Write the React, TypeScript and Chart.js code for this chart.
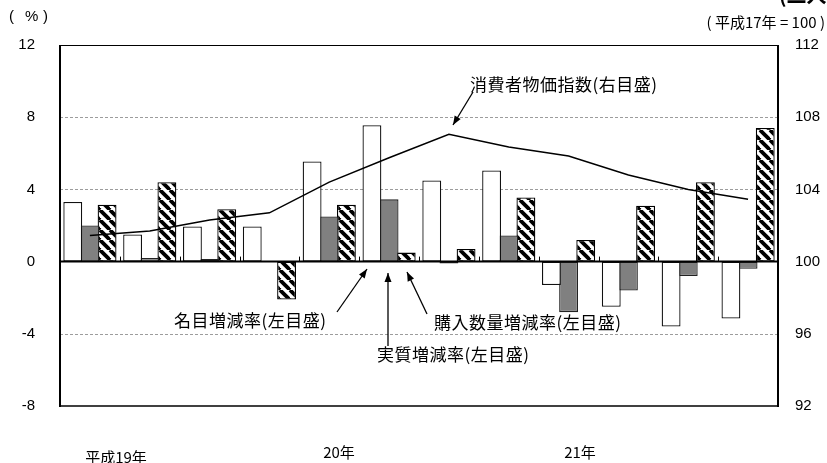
import React, { useEffect, useRef } from "react";
import { Chart, registerables } from "chart.js";

Chart.register(...registerables);

// 12 periods (quarters of 平成19年〜21年)
const categories = [
  "19年1-3月", "19年4-6月", "19年7-9月", "19年10-12月",
  "20年1-3月", "20年4-6月", "20年7-9月", "20年10-12月",
  "21年1-3月", "21年4-6月", "21年7-9月", "21年10-12月",
];
// 名目増減率 (%)
const nominalRate = [3.3, 1.5, 1.95, 1.95, 5.55, 7.55, 4.5, 5.05, -1.3, -2.5, -3.6, -3.15];
// 実質増減率 (%)
const realRate = [2.0, 0.2, 0.15, 0.0, 2.5, 3.45, -0.1, 1.45, -2.8, -1.6, -0.8, -0.4];
// 購入数量増減率 (%)
const quantityRate = [3.15, 4.4, 2.9, -2.1, 3.15, 0.5, 0.7, 3.55, 1.2, 3.1, 4.4, 7.4];
// 消費者物価指数 (平成17年=100)
const cpi = [101.45, 101.7, 102.3, 102.7, 104.4, 105.75, 107.05, 106.35, 105.85, 104.8, 104.0, 103.45];

const leftTicks = [-8, -4, 0, 4, 8, 12];
const rightTicks = [92, 96, 100, 104, 108, 112];
const yearLabels = ["平成19年", "20年", "21年"];

const LATIN = "'Liberation Sans', Arial, sans-serif";
const JP = "'Noto Sans CJK JP', 'Liberation Sans', sans-serif";

function makeHatch(): CanvasPattern | string {
  const c = document.createElement("canvas");
  c.width = 10;
  c.height = 10;
  const g = c.getContext("2d");
  if (!g) return "#000";
  g.fillStyle = "#fff";
  g.fillRect(0, 0, 10, 10);
  g.strokeStyle = "#000";
  g.lineWidth = 3.8;
  for (const x of [-10, 0, 10]) {
    g.beginPath();
    g.moveTo(x, 0);
    g.lineTo(x + 10, 10);
    g.stroke();
  }
  const p = g.createPattern(c, "repeat");
  return p || "#000";
}

function arrow(ctx: CanvasRenderingContext2D, x1: number, y1: number, x2: number, y2: number) {
  ctx.beginPath();
  ctx.moveTo(x1, y1);
  ctx.lineTo(x2, y2);
  ctx.stroke();
  const a = Math.atan2(y2 - y1, x2 - x1);
  const L = 9, W = 3.5;
  ctx.beginPath();
  ctx.moveTo(x2, y2);
  ctx.lineTo(x2 - L * Math.cos(a) + W * Math.sin(a), y2 - L * Math.sin(a) - W * Math.cos(a));
  ctx.lineTo(x2 - L * Math.cos(a) - W * Math.sin(a), y2 - L * Math.sin(a) + W * Math.cos(a));
  ctx.closePath();
  ctx.fill();
}

const overlay = {
  id: "overlay",
  beforeDatasetsDraw(chart: any) {
    const { ctx, chartArea, scales } = chart;
    const y = scales.y;
    ctx.save();
    ctx.strokeStyle = "#9c9c9c";
    ctx.lineWidth = 1;
    ctx.setLineDash([3, 2]);
    for (const v of [8, 4, -4]) {
      const py = Math.round(y.getPixelForValue(v)) + 0.5;
      ctx.beginPath();
      ctx.moveTo(chartArea.left, py);
      ctx.lineTo(chartArea.right, py);
      ctx.stroke();
    }
    ctx.restore();
  },
  afterDatasetsDraw(chart: any) {
    const { ctx, chartArea, scales } = chart;
    const { left, right, top, bottom } = chartArea;
    const y = scales.y;
    const x = scales.x;
    ctx.save();
    ctx.strokeStyle = "#000";
    // zero line
    const zy = y.getPixelForValue(0);
    ctx.lineWidth = 2;
    ctx.beginPath();
    ctx.moveTo(left, zy);
    ctx.lineTo(right, zy);
    ctx.stroke();
    // category boundary ticks
    ctx.lineWidth = 1;
    for (let i = 1; i < categories.length; i++) {
      const bx = Math.round((x.getPixelForValue(i - 1) + x.getPixelForValue(i)) / 2) + 0.5;
      ctx.beginPath();
      ctx.moveTo(bx, zy);
      ctx.lineTo(bx, zy - 5);
      ctx.stroke();
    }
    // frame
    ctx.lineWidth = 1;
    ctx.beginPath();
    ctx.moveTo(left, top + 0.5);
    ctx.lineTo(right, top + 0.5);
    ctx.stroke();
    ctx.lineWidth = 1.5;
    ctx.beginPath();
    ctx.moveTo(left, bottom);
    ctx.lineTo(right, bottom);
    ctx.stroke();
    ctx.lineWidth = 2;
    ctx.beginPath();
    ctx.moveTo(left, top);
    ctx.lineTo(left, bottom + 1);
    ctx.moveTo(right, top);
    ctx.lineTo(right, bottom + 1);
    ctx.stroke();

    // annotations
    ctx.fillStyle = "#000";
    ctx.strokeStyle = "#000";
    ctx.lineWidth = 1.3;
    ctx.font = `17px ${JP}`;
    ctx.textBaseline = "middle";
    ctx.textAlign = "left";
    (ctx as any).letterSpacing = "0.5px";
    ctx.fillText("消費者物価指数(右目盛)", 470, 85);
    ctx.fillText("名目増減率(左目盛)", 174, 321);
    ctx.fillText("購入数量増減率(左目盛)", 434, 323);
    ctx.fillText("実質増減率(左目盛)", 377, 355);
    (ctx as any).letterSpacing = "0px";
    arrow(ctx, 473, 92, 453, 125);
    arrow(ctx, 337, 312, 367, 269);
    arrow(ctx, 388, 346, 388, 273);
    arrow(ctx, 427, 314, 407, 272);

    // header texts
    ctx.font = `15px ${LATIN}`;
    ctx.fillText("(", 9, 17);
    ctx.fillText("%", 25, 17);
    ctx.fillText(")", 43, 17);
    ctx.font = `15px ${JP}`;
    ctx.textAlign = "right";
    ctx.fillText("( 平成17年 = 100 )", 825, 22);
    ctx.font = `bold 20px ${JP}`;
    ctx.textAlign = "left";
    ctx.textBaseline = "alphabetic";
    ctx.fillText("(二人以上の世帯)", 779, 3);

    // year labels
    ctx.font = `15px ${JP}`;
    ctx.textAlign = "center";
    ctx.textBaseline = "middle";
    ctx.fillText(yearLabels[0], 116, 457);
    ctx.fillText(yearLabels[1], 339, 452);
    ctx.fillText(yearLabels[2], 580, 452);
    ctx.restore();
  },
};

export default function App() {
  const ref = useRef<HTMLCanvasElement>(null);
  useEffect(() => {
    if (!ref.current) return;
    const hatch = makeHatch();
    const chart = new Chart(ref.current, {
      type: "bar",
      data: {
        labels: categories,
        datasets: [
          {
            type: "line",
            label: "消費者物価指数(右目盛)",
            data: cpi,
            yAxisID: "y2",
            borderColor: "#000",
            borderWidth: 1.5,
            pointRadius: 0,
            fill: false,
            tension: 0,
            order: 0,
          } as any,
          {
            label: "名目増減率(左目盛)",
            data: nominalRate,
            yAxisID: "y",
            backgroundColor: "#fff",
            borderColor: "#111",
            borderWidth: 1.3,
            borderSkipped: false,
            order: 1,
          },
          {
            label: "実質増減率(左目盛)",
            data: realRate,
            yAxisID: "y",
            backgroundColor: "#808080",
            borderColor: "#222",
            borderWidth: 1.3,
            borderSkipped: false,
            order: 1,
          },
          {
            label: "購入数量増減率(左目盛)",
            data: quantityRate,
            yAxisID: "y",
            backgroundColor: hatch as any,
            borderColor: "#000",
            borderWidth: 1.3,
            borderSkipped: false,
            order: 1,
          },
        ],
      },
      options: {
        responsive: false,
        animation: false,
        layout: { padding: { top: 45, bottom: 57, left: 0, right: 0 } },
        datasets: {
          bar: { categoryPercentage: 0.86, barPercentage: 1.1 },
        },
        plugins: {
          legend: { display: false },
          tooltip: { enabled: false },
        },
        scales: {
          x: { display: false },
          y: {
            position: "left",
            min: -8,
            max: 12,
            afterBuildTicks: (s: any) => {
              s.ticks = leftTicks.map((v) => ({ value: v }));
            },
            afterFit: (s: any) => {
              s.width = 60;
            },
            grid: { display: false, drawTicks: false },
            border: { display: false },
            ticks: {
              padding: 25,
              color: "#000",
              font: { family: LATIN, size: 15 },
            },
          },
          y2: {
            position: "right",
            min: 92,
            max: 112,
            afterBuildTicks: (s: any) => {
              s.ticks = rightTicks.map((v) => ({ value: v }));
            },
            afterFit: (s: any) => {
              s.width = 49;
            },
            grid: { display: false, drawTicks: false },
            border: { display: false },
            ticks: {
              padding: 17,
              color: "#000",
              font: { family: LATIN, size: 15 },
            },
          },
        },
      },
      plugins: [overlay],
    });
    return () => chart.destroy();
  }, []);
  return (
    <div style={{ position: "absolute", left: 0, top: 0, width: 827, height: 463, background: "#fff" }}>
      <canvas ref={ref} width={827} height={463} style={{ display: "block" }} />
    </div>
  );
}
